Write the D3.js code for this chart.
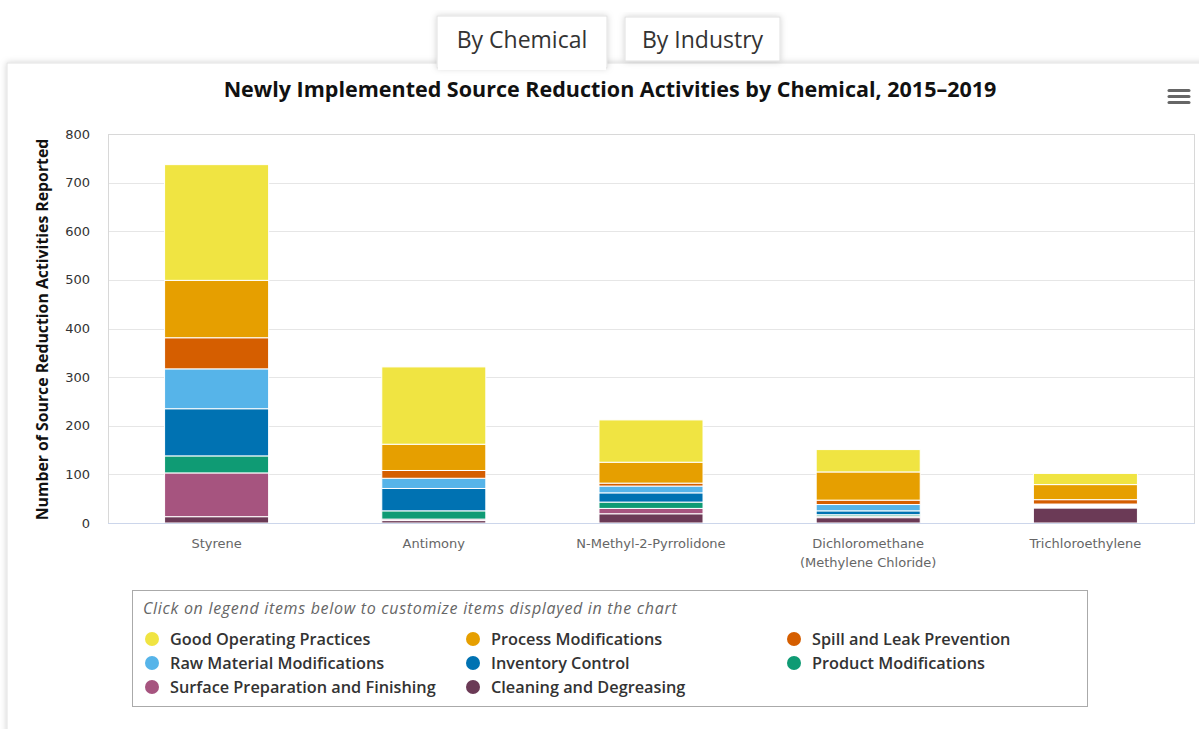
<!DOCTYPE html>
<html><head><meta charset="utf-8">
<script src="https://cdn.jsdelivr.net/npm/d3@7"></script>
<style>
html,body{margin:0;padding:0;background:#fff;}
svg{display:block;}
</style></head>
<body>
<svg id="chart" width="1199" height="729"></svg>
<script>
// ---- data ----
const categories = ["Styrene", "Antimony", "N-Methyl-2-Pyrrolidone", "Dichloromethane (Methylene Chloride)", "Trichloroethylene"];
const seriesNames = ["Good Operating Practices", "Process Modifications", "Spill and Leak Prevention",
  "Raw Material Modifications", "Inventory Control", "Product Modifications",
  "Surface Preparation and Finishing", "Cleaning and Degreasing"];
const goodOperating = [238, 159, 87, 46, 23];
const processMods   = [118, 54, 43, 58, 31];
const spillLeak     = [64, 16, 6, 9, 9];
const rawMaterial   = [82, 21, 14, 13, 2];
const inventory     = [97, 46, 19, 8, 2];
const productMods   = [35, 17, 13, 3, 2];
const surfacePrep   = [90, 3, 11, 3, 2];
const cleaning      = [13, 5, 19, 11, 31];
const yTicks = [0, 100, 200, 300, 400, 500, 600, 700, 800];
const colors = ["#F0E442", "#E69F00", "#D55E00", "#56B4E9", "#0072B2", "#0F9B74", "#A6547F", "#6B3A56"];
const seriesValues = [goodOperating, processMods, spillLeak, rawMaterial, inventory, productMods, surfacePrep, cleaning];

const svg = d3.select("#chart");
const defs = svg.append("defs");
const f = defs.append("filter").attr("id", "shadow").attr("x", "-5%").attr("y", "-10%").attr("width", "110%").attr("height", "130%");
f.append("feDropShadow").attr("dx", 0).attr("dy", 0).attr("stdDeviation", 3).attr("flood-color", "#000").attr("flood-opacity", 0.18);

// panel
svg.append("rect").attr("x", 7).attr("y", 63).attr("width", 1210).attr("height", 700)
  .attr("fill", "#fff").attr("stroke", "#e2e2e2").attr("filter", "url(#shadow)");

// tabs
svg.append("rect").attr("x", 625).attr("y", 17).attr("width", 155).attr("height", 44)
  .attr("fill", "#fff").attr("stroke", "#e0e0e0").attr("filter", "url(#shadow)");
svg.append("rect").attr("x", 437).attr("y", 16).attr("width", 170).attr("height", 52)
  .attr("fill", "#fff").attr("stroke", "#e0e0e0").attr("filter", "url(#shadow)");
svg.append("rect").attr("x", 438).attr("y", 58).attr("width", 168).attr("height", 12).attr("fill", "#fff");
svg.append("text").attr("x", 522).attr("y", 48).attr("text-anchor", "middle")
  .attr("font-family", "'Open Sans', sans-serif").attr("font-size", 23).attr("fill", "#333").text("By Chemical");
svg.append("text").attr("x", 702.5).attr("y", 48).attr("text-anchor", "middle")
  .attr("font-family", "'Open Sans', sans-serif").attr("font-size", 23).attr("fill", "#333").text("By Industry");

// title
svg.append("text").attr("x", 610).attr("y", 97).attr("text-anchor", "middle")
  .attr("font-family", "'Open Sans', sans-serif").attr("font-weight", 700).attr("font-size", 21.5)
  .attr("fill", "#111").text("Newly Implemented Source Reduction Activities by Chemical, 2015\u20132019");

// hamburger
[90.5, 96.5, 102.5].forEach(yy => {
  svg.append("line").attr("x1", 1169).attr("x2", 1189).attr("y1", yy).attr("y2", yy)
    .attr("stroke", "#666").attr("stroke-width", 3).attr("stroke-linecap", "round");
});

// plot
const L = 108, R = 1194, T = 134, B = 523;
const x = d3.scaleBand().domain(categories).range([L, R]).paddingInner(0.521).paddingOuter(0.2605);
const y = d3.scaleLinear().domain([0, 800]).range([B, T]);

// gridlines
svg.append("g").selectAll("line").data(yTicks.filter(d => d > 0)).join("line")
  .attr("x1", L).attr("x2", R).attr("y1", d => Math.round(y(d)) + 0.5).attr("y2", d => Math.round(y(d)) + 0.5)
  .attr("stroke", "#e6e6e6");
// plot border
svg.append("rect").attr("x", L + 0.5).attr("y", T + 0.5).attr("width", R - L).attr("height", B - T)
  .attr("fill", "none").attr("stroke", "#d8d8d8");

// y tick labels
svg.append("g").selectAll("text").data(yTicks).join("text")
  .attr("x", 90).attr("y", d => y(d) + 4.5).attr("text-anchor", "end")
  .attr("font-family", "'DejaVu Sans', sans-serif").attr("font-size", 13).attr("fill", "#333")
  .text(d => d);

// stacked bars: stack order reversed from legend order
const table = categories.map((c, i) => {
  const o = { cat: c };
  seriesNames.forEach((s, j) => o[s] = seriesValues[j][i]);
  return o;
});
const stackKeys = seriesNames.slice().reverse();
const stacked = d3.stack().keys(stackKeys)(table);
const color = d3.scaleOrdinal().domain(seriesNames).range(colors);

svg.append("g").selectAll("g").data(stacked).join("g")
  .attr("fill", d => color(d.key))
  .selectAll("rect").data(d => d).join("rect")
  .attr("x", d => x(d.data.cat)).attr("width", x.bandwidth())
  .attr("y", d => y(d[1])).attr("height", d => y(d[0]) - y(d[1]))
  .attr("stroke", "#fff").attr("stroke-width", 1);

// x axis line
svg.append("line").attr("x1", L).attr("x2", R + 1).attr("y1", B + 0.5).attr("y2", B + 0.5).attr("stroke", "#ccd6eb");

// x labels
const xl = svg.append("g").selectAll("text").data(categories).join("text")
  .attr("x", d => x(d) + x.bandwidth() / 2).attr("y", 548).attr("text-anchor", "middle")
  .attr("font-family", "'DejaVu Sans', sans-serif").attr("font-size", 13).attr("fill", "#666");
xl.each(function (d) {
  const parts = d.indexOf(" (") > 0 ? [d.slice(0, d.indexOf(" (")), d.slice(d.indexOf(" (") + 1)] : [d];
  const t = d3.select(this);
  parts.forEach((p, i) => t.append("tspan").attr("x", x(d) + x.bandwidth() / 2).attr("dy", i === 0 ? 0 : 19).text(p));
});

// y axis title
svg.append("text").attr("transform", `translate(48,${(T + B) / 2 + 1}) rotate(-90)`).attr("text-anchor", "middle")
  .attr("font-family", "'Open Sans', sans-serif").attr("font-weight", 700).attr("font-size", 15.8)
  .attr("fill", "#111").text("Number of Source Reduction Activities Reported");

// legend
svg.append("rect").attr("x", 132.5).attr("y", 590.5).attr("width", 955).attr("height", 116)
  .attr("fill", "#fff").attr("stroke", "#aaa");
svg.append("text").attr("x", 143).attr("y", 614)
  .attr("font-family", "'Open Sans', sans-serif").attr("font-style", "italic").attr("font-size", 16)
  .attr("letter-spacing", 0.7)
  .attr("fill", "#666").text("Click on legend items below to customize items displayed in the chart");
const colX = [152, 473, 794];
const rowY = [639, 663, 687];
const lg = svg.append("g").selectAll("g").data(seriesNames).join("g")
  .attr("transform", (d, i) => `translate(${colX[i % 3]},${rowY[Math.floor(i / 3)]})`);
lg.append("circle").attr("r", 7).attr("fill", d => color(d));
lg.append("text").attr("x", 18).attr("y", 5.5)
  .attr("font-family", "'Open Sans', sans-serif").attr("font-weight", 600).attr("font-size", 16.3)
  .attr("fill", "#333").text(d => d);
</script>
</body></html>
